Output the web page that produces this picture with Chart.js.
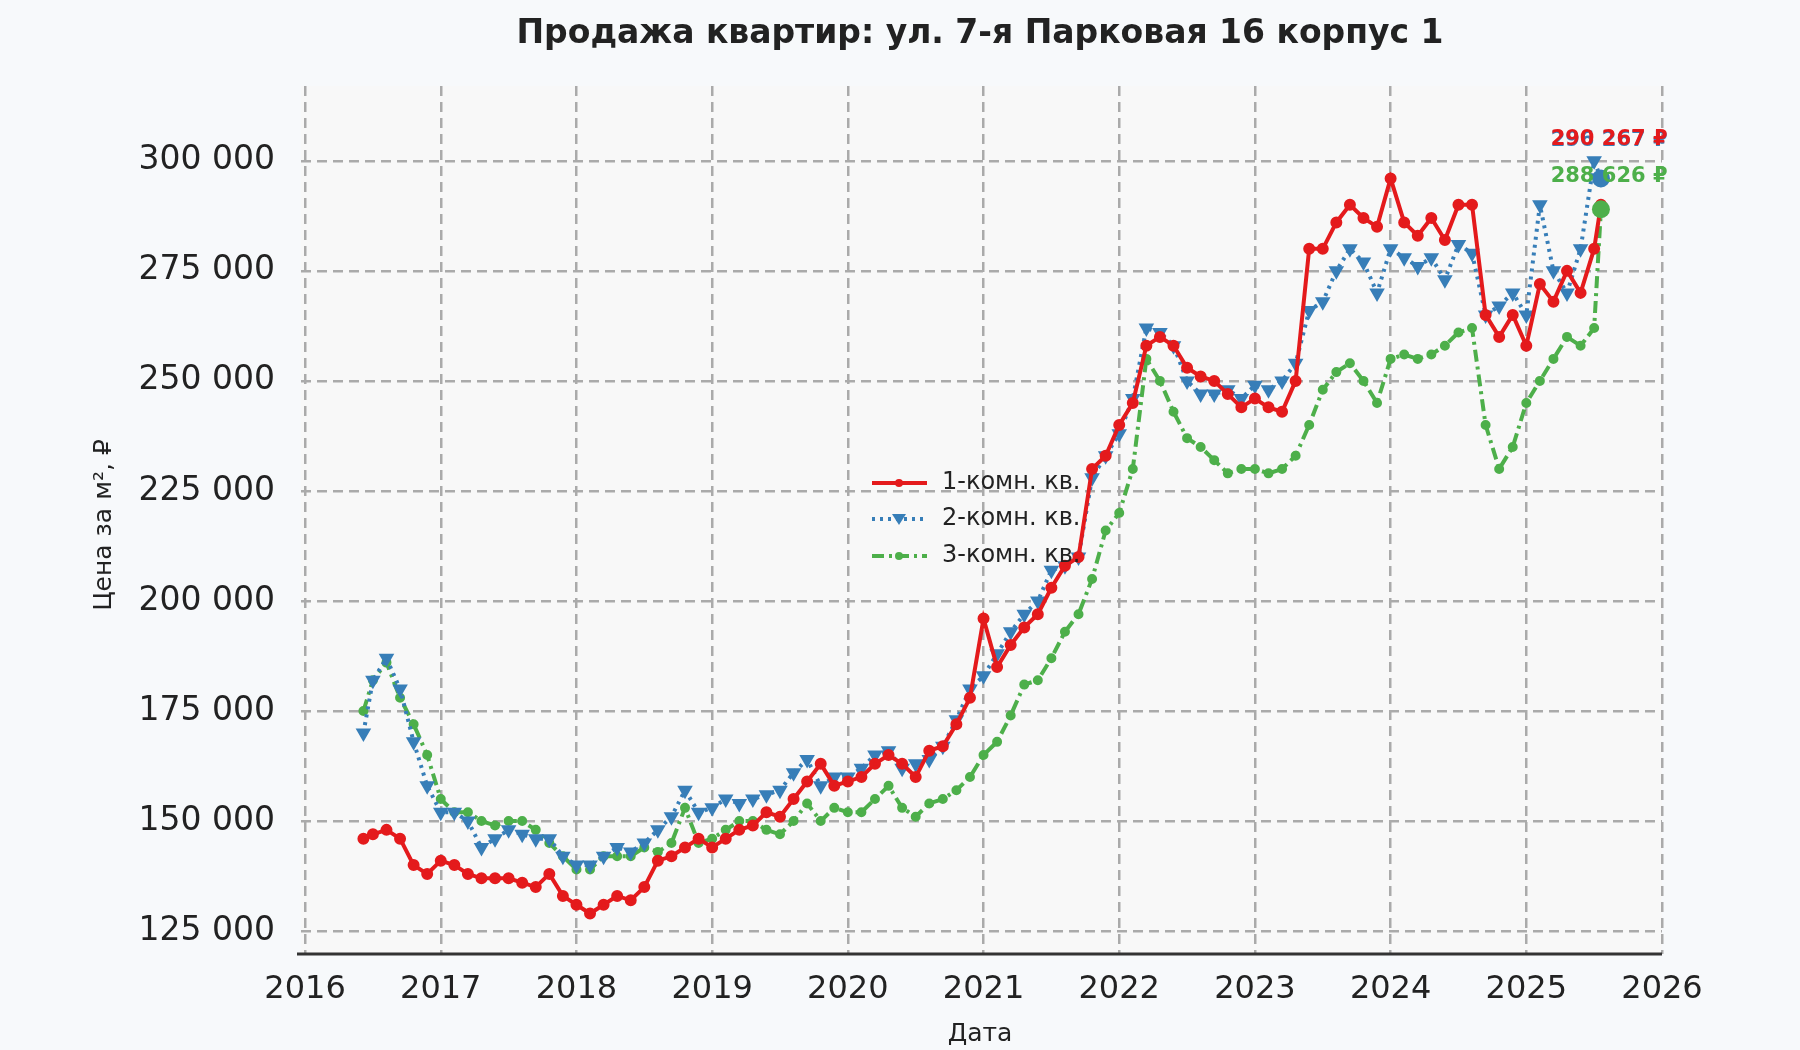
<!DOCTYPE html>
<html><head><meta charset="utf-8">
<script src="https://cdn.jsdelivr.net/npm/chart.js@4"></script>
<style>html,body{margin:0;padding:0;background:#f7f9fb}#w{width:1800px;height:1050px}</style>
</head><body><div id="w"><canvas id="c" width="1800" height="1050"></canvas></div>
<script>
const dates = [2016.43,2016.5,2016.6,2016.7,2016.8,2016.9,2017.0,2017.1,2017.2,2017.3,2017.4,2017.5,2017.6,2017.7,2017.8,2017.9,
2018.0,2018.1,2018.2,2018.3,2018.4,2018.5,2018.6,2018.7,2018.8,2018.9,2019.0,2019.1,2019.2,2019.3,2019.4,2019.5,2019.6,2019.7,2019.8,2019.9,
2020.0,2020.1,2020.2,2020.3,2020.4,2020.5,2020.6,2020.7,2020.8,2020.9,2021.0,2021.1,2021.2,2021.3,2021.4,2021.5,2021.6,2021.7,2021.8,2021.9,
2022.0,2022.1,2022.2,2022.3,2022.4,2022.5,2022.6,2022.7,2022.8,2022.9,2023.0,2023.1,2023.2,2023.3,2023.4,2023.5,2023.6,2023.7,2023.8,2023.9,
2024.0,2024.1,2024.2,2024.3,2024.4,2024.5,2024.6,2024.7,2024.8,2024.9,2025.0,2025.1,2025.2,2025.3,2025.4,2025.5,2025.55];
const room1 = [146,147,148,146,140,138,141,140,138,137,137,137,136,135,138,133,
131,129,131,133,132,135,141,142,144,146,144,146,148,149,152,151,155,159,163,158,
159,160,163,165,163,160,166,167,172,178,196,185,190,194,197,203,208,210,230,233,
240,245,258,260,258,253,251,250,247,244,246,244,243,250,280,280,286,290,287,285,
296,286,283,287,282,290,290,265,260,265,258,272,268,275,270,280,290];
const room2 = [170,182,187,180,168,158,152,152,150,144,146,148,147,146,146,142,
140,140,142,144,143,145,148,151,157,152,153,155,154,155,156,157,161,164,158,160,
160,162,165,166,162,163,164,167,173,180,183,188,193,197,200,207,208,210,228,233,
238,246,262,261,258,250,247,247,248,246,249,248,250,254,266,268,275,280,277,270,
280,278,276,278,273,281,279,265,267,270,265,290,275,270,280,300,296];
const room3 = [175,182,186,178,172,165,155,152,152,150,149,150,150,148,145,142,
139,139,142,142,142,144,143,145,153,145,146,148,150,150,148,147,150,154,150,153,
152,152,155,158,153,151,154,155,157,160,165,168,174,181,182,187,193,197,205,216,
220,230,255,250,243,237,235,232,229,230,230,229,230,233,240,248,252,254,250,245,
255,256,255,256,258,261,262,240,230,235,245,250,255,260,258,262,289];
const seriesNames = ['1-комн. кв.','2-комн. кв.','3-комн. кв.'];
const endLabels = ['290 267 ₽','296 267 ₽','288 626 ₽'];
const yTicks = [125000,150000,175000,200000,225000,250000,275000,300000];
const xTicks = [2016,2017,2018,2019,2020,2021,2022,2023,2024,2025,2026];
const colors = ['#e41a1c','#377eb8','#4daf4a'];

const fmt = v => String(Math.round(v)).replace(/\B(?=(\d{3})+(?!\d))/g,' ');
const mk = (arr)=>arr.map((v,i)=>({x:dates[i],y:v*1000}));
const FONT = "'DejaVu Sans', sans-serif";

const bgPlugin = {id:'bg', beforeDraw(ch){const a=ch.chartArea,c=ch.ctx;c.save();c.fillStyle='#f8f8f8';c.fillRect(a.left,a.top,a.right-a.left,a.bottom-a.top);c.restore();}};
const deco = {id:'deco', afterDraw(ch){
  const c=ch.ctx,a=ch.chartArea,xs=ch.scales.x,ys=ch.scales.y;
  c.save();
  c.fillStyle='#222';c.textAlign='center';c.textBaseline='middle';
  c.font="bold 33px "+FONT;c.fillText('Продажа квартир: ул. 7-я Парковая 16 корпус 1',980,34);
  c.font="25px "+FONT;c.fillText('Дата',980,1034);
  c.translate(104,525);c.rotate(-Math.PI/2);c.fillText('Цена за м², ₽',0,0);
  c.restore();
  c.save();c.strokeStyle='#333';c.lineWidth=3;c.beginPath();c.moveTo(a.left-4,a.bottom);c.lineTo(a.right,a.bottom);c.stroke();c.restore();
  const last=dates.length-1;
  c.save();
  [[room2,1],[room3,2]].forEach(([arr,k])=>{c.fillStyle=colors[k];c.beginPath();c.arc(xs.getPixelForValue(dates[last]),ys.getPixelForValue(arr[last]*1000),9,0,2*Math.PI);c.fill();});
  c.font="bold 21px "+FONT;c.textAlign='center';c.textBaseline='middle';
  c.fillStyle=colors[1];c.fillText(endLabels[1],xs.getPixelForValue(2025.61),ys.getPixelForValue(304500));
  c.fillStyle=colors[0];c.fillText(endLabels[0],xs.getPixelForValue(2025.61),ys.getPixelForValue(304800));
  c.fillStyle=colors[2];c.fillText(endLabels[2],xs.getPixelForValue(2025.61),ys.getPixelForValue(296500));
  c.restore();
  c.save();
  const lx=872, ly=[483,519,556];
  c.font="24px "+FONT;c.textBaseline='middle';
  ch.data.datasets.forEach((d,i)=>{
    c.strokeStyle=colors[i];c.lineWidth=4;c.setLineDash(d.borderDash||[]);
    c.beginPath();c.moveTo(lx,ly[i]);c.lineTo(lx+55,ly[i]);c.stroke();c.setLineDash([]);
    c.fillStyle=colors[i];
    if(i===1){c.beginPath();c.moveTo(lx+20,ly[i]-5);c.lineTo(lx+34,ly[i]-5);c.lineTo(lx+27,ly[i]+6);c.fill();}
    else{c.beginPath();c.arc(lx+27,ly[i],4,0,2*Math.PI);c.fill();}
    c.fillStyle='#222';c.fillText(seriesNames[i],lx+70,ly[i]);
  });
  c.restore();
}};

new Chart(document.getElementById('c'),{
  type:'line',
  data:{datasets:[
    {label:seriesNames[0],data:mk(room1),borderColor:colors[0],backgroundColor:colors[0],borderWidth:4,pointRadius:4,pointStyle:'circle',tension:0},
    {label:seriesNames[1],data:mk(room2),borderColor:colors[1],backgroundColor:colors[1],borderWidth:4,borderDash:[3,5],pointRadius:5,pointStyle:'triangle',rotation:180,tension:0},
    {label:seriesNames[2],data:mk(room3),borderColor:colors[2],backgroundColor:colors[2],borderWidth:4,borderDash:[12,5,3,5],pointRadius:3,pointStyle:'circle',tension:0}
  ]},
  options:{responsive:false,animation:false,
    layout:{padding:{top:86,right:138,left:0,bottom:0}},
    plugins:{legend:{display:false},tooltip:{enabled:false}},
    scales:{
      x:{type:'linear',min:2015.97,max:2026,
        afterBuildTicks(s){s.ticks=xTicks.map(v=>({value:v}));},
        afterFit(s){s.height=96;},
        grid:{color:'#aaaaaa',lineWidth:2.5,tickLength:0},
        border:{dash:[10,6],display:false},
        ticks:{color:'#222',font:{family:FONT,size:32},padding:16,maxRotation:0,callback:v=>String(v)}},
      y:{min:119800,max:317000,
        afterBuildTicks(s){s.ticks=yTicks.map(v=>({value:v}));},
        afterFit(s){s.width=301;},
        grid:{color:'#aaaaaa',lineWidth:2.5,tickLength:0},
        border:{dash:[10,6],display:false},
        ticks:{color:'#222',font:{family:FONT,size:33},padding:26,callback:v=>fmt(v)}}
    }
  },
  plugins:[bgPlugin,deco]
});
</script></body></html>
